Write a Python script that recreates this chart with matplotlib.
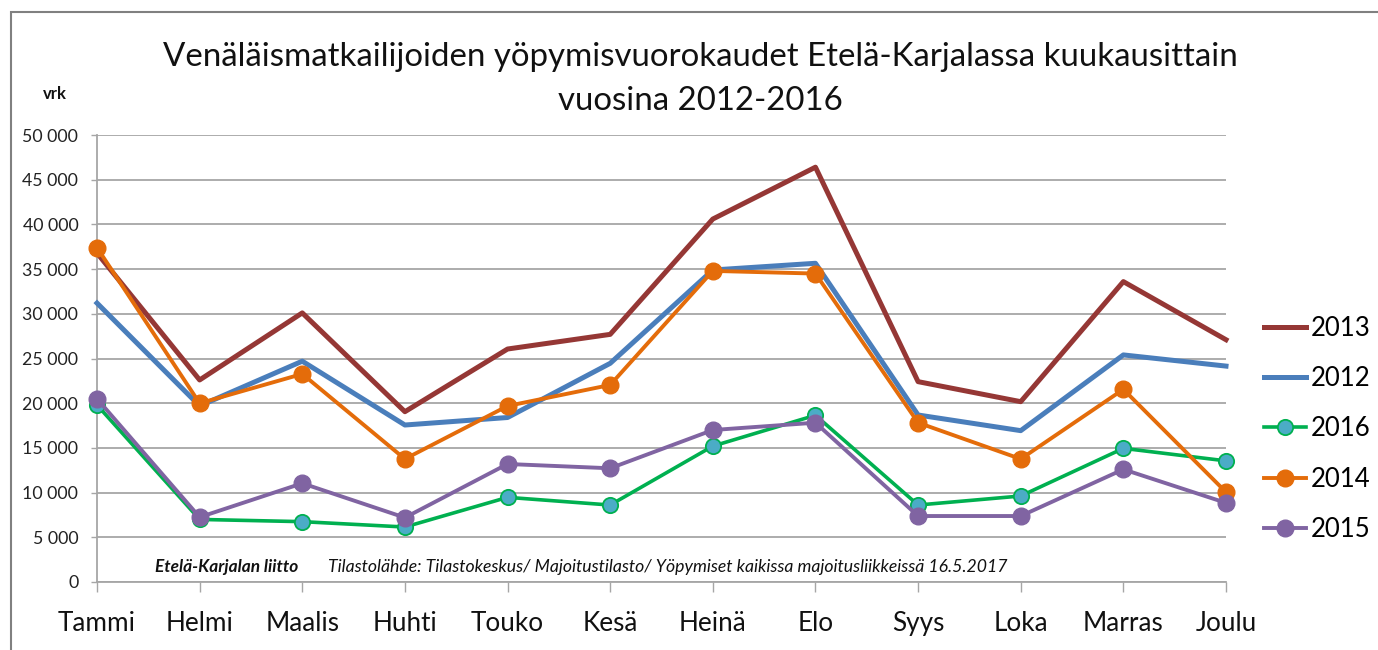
import matplotlib
matplotlib.use("Agg")
import matplotlib.pyplot as plt
from matplotlib.ticker import FuncFormatter, MultipleLocator
from matplotlib.lines import Line2D
from matplotlib.patches import Rectangle

months = ["Tammi", "Helmi", "Maalis", "Huhti", "Touko", "Kesä", "Heinä", "Elo",
          "Syys", "Loka", "Marras", "Joulu"]

v2013 = [36800, 22600, 30100, 19050, 26060, 27700, 40600, 46400, 22410, 20170, 33600, 27100]
v2012 = [31200, 19700, 24700, 17560, 18400, 24460, 34900, 35650, 18680, 16930, 25400, 24150]
v2016 = [19800, 7000, 6750, 6150, 9470, 8610, 15200, 18650, 8610, 9620, 14950, 13550]
v2014 = [37400, 19990, 23270, 13760, 19690, 22040, 34800, 34500, 17820, 13760, 21550, 10050]
v2015 = [20500, 7250, 11040, 7200, 13200, 12720, 17000, 17820, 7380, 7380, 12600, 8850]

FONT = ["Lato", "DejaVu Sans"]
plt.rcParams["font.family"] = FONT

W, H = 1378, 650
fig = plt.figure(figsize=(W / 100, H / 100), dpi=100)

def fx(px):
    return px / W

def fy(py):
    return 1 - py / H

ax = fig.add_axes([fx(97), fy(582), fx(1226) - fx(97), fy(135) - fy(582)])

x = list(range(len(months)))
c2013, c2012, c2016, c2016f, c2014, c2015 = "#953735", "#4A7EBB", "#00B050", "#4BACC6", "#E46C0A", "#8064A2"

ax.plot(x, v2016, color=c2016, lw=2.6, marker="o", ms=11, mfc=c2016f, mec=c2016, mew=1.3, zorder=3, clip_on=False)
ax.plot(x, v2012, color=c2012, lw=3.6, zorder=3, clip_on=False)
ax.plot(x, v2013, color=c2013, lw=3.6, zorder=3, clip_on=False)
ax.plot(x, v2014, color=c2014, lw=2.8, marker="o", ms=12, mfc=c2014, mec=c2014, zorder=3, clip_on=False)
ax.plot(x, v2015, color=c2015, lw=2.8, marker="o", ms=12, mfc=c2015, mec=c2015, zorder=3, clip_on=False)

ax.set_xlim(0, len(months) - 1)
ax.set_ylim(0, 50000)
ax.yaxis.set_major_locator(MultipleLocator(5000))
ax.yaxis.set_major_formatter(FuncFormatter(lambda v, p: f"{int(v):,}".replace(",", " ")))
ax.set_xticks(x)
ax.set_xticklabels(months)

ax.grid(axis="y", color="#A6A6A6", lw=1.3, zorder=0)
ax.set_axisbelow(True)
for s in ["top", "right"]:
    ax.spines[s].set_visible(False)
for s in ["left", "bottom"]:
    ax.spines[s].set_color("#A6A6A6")
    ax.spines[s].set_linewidth(1.3)

ax.tick_params(axis="y", length=4.5, width=1.0, color="#A6A6A6", pad=9, labelsize=12.8, labelcolor="#222222")
ax.tick_params(axis="x", length=7, width=1.0, color="#A6A6A6", pad=14, labelsize=18.8, labelcolor="#111111")

handles = [
    Line2D([], [], color=c2013, lw=3.6),
    Line2D([], [], color=c2012, lw=3.6),
    Line2D([], [], color=c2016, lw=2.6, marker="o", ms=11, mfc=c2016f, mec=c2016, mew=1.3),
    Line2D([], [], color=c2014, lw=2.8, marker="o", ms=12, mfc=c2014, mec=c2014),
    Line2D([], [], color=c2015, lw=2.8, marker="o", ms=12, mfc=c2015, mec=c2015),
]
labels = ["2013", "2012", "2016", "2014", "2015"]
fig.legend(handles, labels, loc="upper left", bbox_to_anchor=(fx(1264), fy(316)),
           frameon=False, fontsize=18.5, handlelength=1.65, handletextpad=0.15,
           labelspacing=0.98, borderaxespad=0, borderpad=0)

fig.text(fx(700), fy(57), "Venäläismatkailijoiden yöpymisvuorokaudet Etelä-Karjalassa kuukausittain",
         ha="center", va="center", fontsize=23.8, color="#111111")
fig.text(fx(700), fy(101), "vuosina 2012-2016", ha="center", va="center", fontsize=23.8, color="#111111")
fig.text(fx(55), fy(94), "vrk", ha="center", va="center", fontsize=12, fontweight="bold", color="#111111")
fig.text(fx(155), fy(567), "Etelä-Karjalan liitto", ha="left", va="center", fontsize=12.4,
         fontweight="bold", fontstyle="italic", color="#111111")
fig.text(fx(328), fy(567), "Tilastolähde: Tilastokeskus/ Majoitustilasto/ Yöpymiset kaikissa majoitusliikkeissä 16.5.2017",
         ha="left", va="center", fontsize=12.7, fontstyle="italic", color="#111111")

fig.patches.append(Rectangle((fx(11), fy(700)), 2, fy(12) - fy(700), transform=fig.transFigure,
                             fill=False, edgecolor="#808080", lw=1.5, zorder=0))

fig.savefig("out.png", dpi=100)
